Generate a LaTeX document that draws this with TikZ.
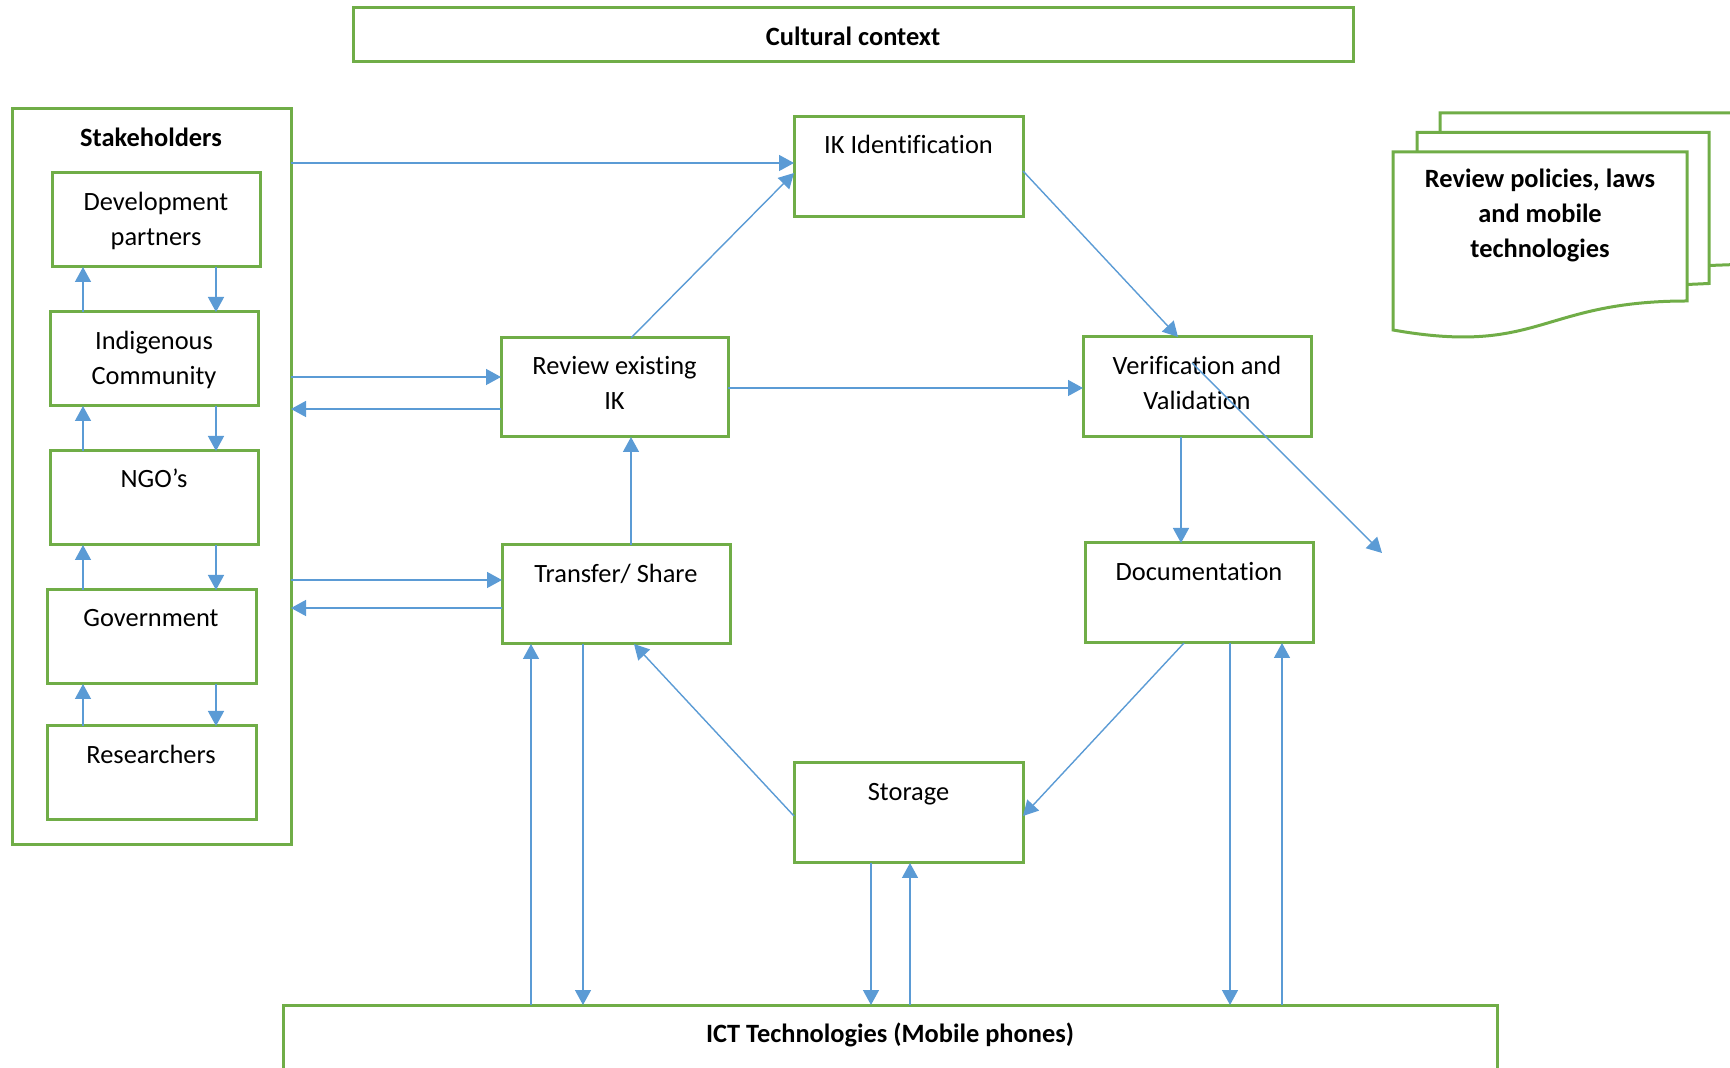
\documentclass[tikz,border=0pt]{standalone}
\usepackage{fontspec}
\setmainfont{Carlito}[Ligatures=NoCommon]
\usetikzlibrary{arrows.meta,fit}
\definecolor{boxgreen}{HTML}{70AD47}
\definecolor{linkblue}{HTML}{5B9BD5}

\begin{document}
\begin{tikzpicture}[x=0.5pt,y=-0.5pt,
  box/.style={draw=boxgreen, line width=1.5pt, fill=white, inner sep=0pt, outer sep=0pt},
  lbl/.style={inner sep=0pt, anchor=north, align=center,
    font=\fontsize{13.2}{17.5}\selectfont},
  boldlbl/.style={lbl, font=\fontsize{13.2}{17.5}\selectfont\bfseries},
  link/.style={draw=linkblue, line width=0.7pt,
    -{Triangle[length=7.5pt,width=8pt]}},
  sheet/.style={draw=boxgreen, line width=1.5pt, line join=miter},
]
\useasboundingbox (0,0) rectangle (1730,1068);

% ---- frames ----
\node[box, fit={(353,8) (1353,62)}] (cult) {};
\node[box, fit={(12,109) (291,845)}] (stake) {};
\node[box, fit={(52,173) (260,267)}] (dev) {};
\node[box, fit={(50,312) (258,406)}] (ind) {};
\node[box, fit={(50,451) (258,545)}] (ngo) {};
\node[box, fit={(47,590) (256,684)}] (gov) {};
\node[box, fit={(47,726) (256,820)}] (res) {};
\node[box, fit={(794,117) (1023,217)}] (ik) {};
\node[box, fit={(501,338) (728,437)}] (rev) {};
\node[box, fit={(1083,337) (1311,437)}] (ver) {};
\node[box, fit={(502,545) (730,644)}] (tra) {};
\node[box, fit={(1085,543) (1313,643)}] (doc) {};
\node[box, fit={(794,763) (1023,863)}] (sto) {};
\node[box, fit={(283,1005) (1497,1110)}] (ict) {};

% ---- stacked document sheets ----
\draw[sheet] (1440,132) -- (1440,113) -- (1736,113) -- (1736,264.5)
  .. controls (1722,264.5) .. (1709,265.5);
\draw[sheet] (1417,152) -- (1417,132.5) -- (1709,132.5) -- (1709,283.5)
  .. controls (1698,283.5) .. (1687,284.5);
\draw[sheet, fill=white] (1393,152) -- (1687,152) -- (1687,301)
  .. controls (1540,301) and (1540,356) .. (1393,330) -- cycle;

% ---- labels ----
\node[boldlbl] (tCult) at (853,20.5) {\strut Cultural context};
\node[boldlbl] (tStake) at (151,121.5) {\strut Stakeholders};
\node[lbl] (tDev) at (156,186) {\strut Development\\\strut partners};
\node[lbl] (tInd) at (154,325) {\strut Indigenous\\\strut Community};
\node[lbl] (tNgo) at (154,463) {\strut NGO’s};
\node[lbl] (tGov) at (151,602) {\strut Government};
\node[lbl] (tRes) at (151,739) {\strut Researchers};
\node[lbl] (tIk) at (908.5,129) {\strut IK Identification};
\node[lbl] (tRev) at (614.5,349.5) {\strut Review existing\\\strut IK};
\node[lbl] (tVer) at (1197,350) {\strut Verification and\\\strut Validation};
\node[lbl] (tTra) at (616,558) {\strut Transfer/ Share};
\node[lbl] (tDoc) at (1199,556) {\strut Documentation};
\node[lbl] (tSto) at (908.5,776) {\strut Storage};
\node[boldlbl] (tIct) at (890,1018) {\strut ICT Technologies (Mobile phones)};
\node[boldlbl] (tPol) at (1540,163)
  {\strut Review policies, laws\\\strut and mobile\\\strut technologies};

% ---- links inside the stakeholder column ----
\draw[link] (ind.north -| 83,0) -- (dev.south -| 83,0);
\draw[link] (dev.south -| 216,0) -- (ind.north -| 216,0);
\draw[link] (ngo.north -| 83,0) -- (ind.south -| 83,0);
\draw[link] (ind.south -| 216,0) -- (ngo.north -| 216,0);
\draw[link] (gov.north -| 83,0) -- (ngo.south -| 83,0);
\draw[link] (ngo.south -| 216,0) -- (gov.north -| 216,0);
\draw[link] (res.north -| 83,0) -- (gov.south -| 83,0);
\draw[link] (gov.south -| 216,0) -- (res.north -| 216,0);

% ---- stakeholders to the process ----
\draw[link] (stake.east |- 0,163) -- (ik.west |- 0,163);
\draw[link] (stake.east |- 0,377) -- (rev.west |- 0,377);
\draw[link] (rev.west |- 0,409) -- (stake.east |- 0,409);
\draw[link] (stake.east |- 0,580) -- (tra.west |- 0,580);
\draw[link] (tra.west |- 0,608) -- (stake.east |- 0,608);

% ---- process cycle ----
\draw[link] (rev.north -| 631,0) -- (ik.west |- 0,173);
\draw[link] (ik.east |- 0,171) -- (ver.north -| 1178,0);
\draw[link] (rev.east |- 0,388) -- (ver.west |- 0,388);
\draw[link] (tra.north -| 631,0) -- (rev.south -| 631,0);
\draw[link] (ver.south -| 1181,0) -- (doc.north -| 1181,0);
\coordinate (verInner) at (1192,363);
\coordinate (freeEnd) at (1382,553);
\draw[link] (verInner) -- (freeEnd);
\draw[link] (doc.south -| 1184,0) -- (sto.east |- 0,816);
\draw[link] (sto.west |- 0,816) -- (tra.south -| 634,0);

% ---- exchanges with ICT ----
\draw[link] (tra.south -| 583,0) -- (ict.north -| 583,0);
\draw[link] (ict.north -| 531,0) -- (tra.south -| 531,0);
\draw[link] (sto.south -| 871,0) -- (ict.north -| 871,0);
\draw[link] (ict.north -| 910,0) -- (sto.south -| 910,0);
\draw[link] (doc.south -| 1230,0) -- (ict.north -| 1230,0);
\draw[link] (ict.north -| 1282,0) -- (doc.south -| 1282,0);
\end{tikzpicture}
\end{document}
